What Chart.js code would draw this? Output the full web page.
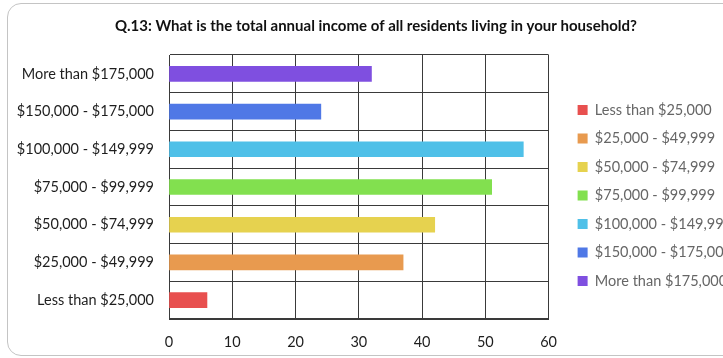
<!DOCTYPE html>
<html>
<head>
<meta charset="utf-8">
<script src="https://cdn.jsdelivr.net/npm/chart.js@4.4.1/dist/chart.umd.min.js"></script>
<style>
  html, body { margin: 0; padding: 0; background: #fff; overflow: hidden; }
  #wrap { position: relative; width: 723px; height: 358px; overflow: hidden; }
  #frame { position: absolute; left: 7px; top: 3px; width: 780px; height: 351px; border: 1px solid #c4c4c4; border-radius: 14px; }
  #box { position: absolute; left: 0; top: 0; }
</style>
</head>
<body>
<div id="wrap">
  <div id="frame"></div>
  <div id="box"><canvas id="incomeChart" width="742" height="358"></canvas></div>
</div>
<script>
// survey answers, bottom to top
const categories = [
  'Less than $25,000',
  '$25,000 - $49,999',
  '$50,000 - $74,999',
  '$75,000 - $99,999',
  '$100,000 - $149,999',
  '$150,000 - $175,000',
  'More than $175,000'
];
const responses = [6, 37, 42, 51, 56, 24, 32];
const barColors = ['#e8504f', '#e89a4f', '#e6d24f', '#82e04f', '#4fc0e8', '#4f78e6', '#7f4fe0'];
const xMin = 0;
const xMax = 60;
const xStep = 10;

const FONT = 'Lato, "Open Sans", sans-serif';
const gridColor = '#3a3a3a';
const textColor = '#1e1e1e';

new Chart(document.getElementById('incomeChart').getContext('2d'), {
  type: 'bar',
  data: {
    labels: categories,
    datasets: [{
      label: 'Responses',
      data: responses,
      backgroundColor: barColors,
      barThickness: 15
    }]
  },
  options: {
    indexAxis: 'y',
    responsive: false,
    animation: false,
    devicePixelRatio: 1,
    layout: { padding: { left: 10 } },
    plugins: {
      title: {
        display: true,
        text: 'Q.13: What is the total annual income of all residents living in your household?',
        color: '#111',
        font: { family: FONT, size: 15, weight: 'bold' },
        padding: { top: 17, bottom: 20 }
      },
      legend: {
        position: 'right',
        fullSize: false,
        onClick: null,
        // empty title only pushes the items down a little
        title: { display: true, text: '', padding: 0, font: { size: 14 } },
        labels: {
          boxWidth: 10,
          boxHeight: 10,
          padding: 14,
          color: textColor,
          font: { family: FONT, size: 14.5 },
          generateLabels: () => categories.map((c, i) => ({
            text: c,
            fillStyle: barColors[i],
            strokeStyle: barColors[i],
            lineWidth: 0,
            hidden: false,
            index: i
          }))
        }
      },
      tooltip: { enabled: false }
    },
    scales: {
      x: {
        min: xMin,
        max: xMax,
        ticks: { stepSize: xStep, color: textColor, font: { family: FONT, size: 14.5 }, padding: 15 },
        grid: { color: gridColor, drawTicks: false },
        border: { color: gridColor },
        afterFit: s => { s.height = 39; }
      },
      y: {
        reverse: true,
        ticks: { color: textColor, font: { family: FONT, size: 14.5 }, padding: 15 },
        grid: { color: gridColor, drawTicks: false },
        border: { color: gridColor },
        afterFit: s => { s.width = 159; }
      },
      // empty spacer between the plot and the legend
      gap: {
        type: 'linear',
        axis: 'y',
        position: 'right',
        display: false,
        afterFit: s => { s.width = 15; }
      }
    }
  }
});
</script>
</body>
</html>
